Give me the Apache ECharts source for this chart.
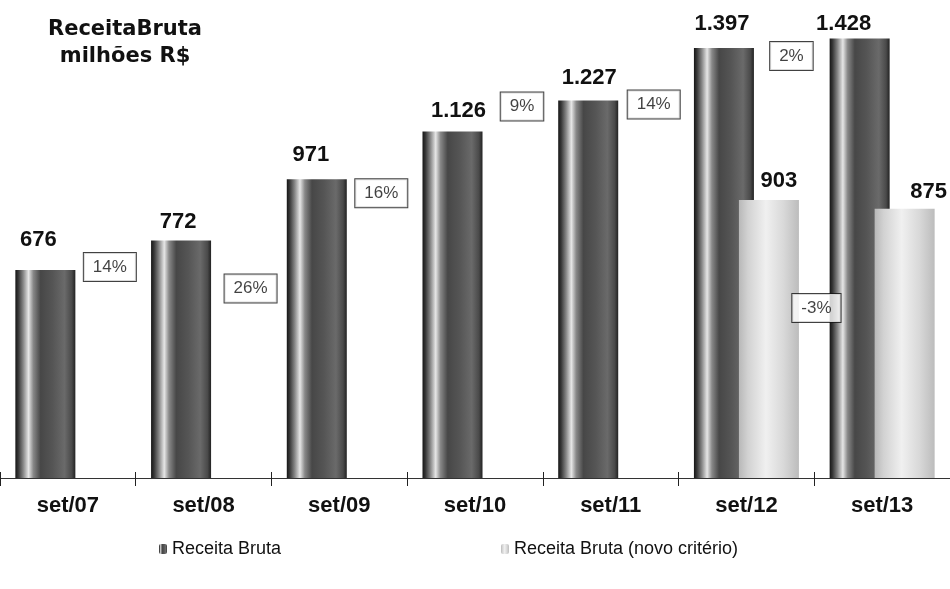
<!DOCTYPE html>
<html>
<head>
<meta charset="utf-8">
<script src="https://cdn.jsdelivr.net/npm/echarts@6/dist/echarts.min.js"></script>
<style>
  html, body { margin: 0; padding: 0; background: #fff; }
  #chart { width: 950px; height: 589px; }
</style>
</head>
<body>
<div id="chart"></div>
<script>
// ---- data ----
const categories = ['set/07', 'set/08', 'set/09', 'set/10', 'set/11', 'set/12', 'set/13'];
const receitaBruta = [676, 772, 971, 1126, 1227, 1397, 1428];
const receitaNovo = [null, null, null, null, null, 903, 875];
const growthBruta = ['14%', '26%', '16%', '9%', '14%', '2%', null];
const growthNovo = [null, null, null, null, null, '-3%', null];
const seriesNames = ['Receita Bruta', 'Receita Bruta (novo critério)'];

// ---- label placement (layout only) ----
const valueShiftBruta = [[-7, -14], [-3, -2], [-6, -8], [6, -5], [1, -6], [-2, -8], [-16, 1]];
const valueShiftNovo = [null, null, null, null, null, [10, -3], [24, -1]];
const growthShiftBruta = [[42, -3], [47, 48], [42, 14], [47, -25], [43, 4], [45, 8], null];
const growthShiftNovo = [null, null, null, null, null, [70, 108], null];

function fmt(v) {
  return v >= 1000 ? Math.floor(v / 1000) + '.' + String(v % 1000).padStart(3, '0') : String(v);
}

const FONT = 'Liberation Sans, Arial, sans-serif';

const darkGrad = {
  type: 'linear', x: 0, y: 0, x2: 1, y2: 0,
  colorStops: [
    { offset: 0, color: '#151515' },
    { offset: 0.05, color: '#383838' },
    { offset: 0.13, color: '#858585' },
    { offset: 0.22, color: '#e6e6e6' },
    { offset: 0.3, color: '#888888' },
    { offset: 0.42, color: '#474747' },
    { offset: 0.62, color: '#555555' },
    { offset: 0.82, color: '#6a6a6a' },
    { offset: 0.94, color: '#4a4a4a' },
    { offset: 1, color: '#222222' }
  ]
};
const lightGrad = {
  type: 'linear', x: 0, y: 0, x2: 1, y2: 0,
  colorStops: [
    { offset: 0, color: '#b8b8b8' },
    { offset: 0.15, color: '#d2d2d2' },
    { offset: 0.45, color: '#f0f0f0' },
    { offset: 0.75, color: '#d8d8d8' },
    { offset: 1, color: '#bcbcbc' }
  ]
};

const valueLabelBase = {
  show: true, position: 'top', distance: 5,
  fontFamily: FONT, fontWeight: 'bold', fontSize: 22, color: '#111',
  formatter: p => fmt(p.value)
};

function barData(values, shifts) {
  return values.map((v, i) => v == null ? null : {
    value: v,
    label: Object.assign({}, valueLabelBase, { offset: shifts[i] || [0, 0] })
  });
}

function growthData(values, growth, shifts) {
  const out = [];
  growth.forEach((g, i) => {
    if (g == null) return;
    out.push({ value: [i, values[i]], name: g, label: { offset: shifts[i] } });
  });
  return out;
}

const growthLabel = {
  show: true, position: 'inside', formatter: p => p.name,
  fontFamily: FONT, fontSize: 17, color: '#111',
  backgroundColor: '#fff', borderColor: '#111', borderWidth: 1, padding: [6, 9, 5, 9]
};

const chart = echarts.init(document.getElementById('chart'));
chart.setOption({
  animation: false,
  backgroundColor: '#ffffff',
  title: {
    text: 'ReceitaBruta\nmilhões R$',
    left: 120, top: 11, textAlign: 'center',
    textStyle: { fontFamily: 'DejaVu Sans, sans-serif', fontWeight: 'bold', fontSize: 21, lineHeight: 27, color: '#111' }
  },
  legend: [
    {
      data: [seriesNames[0]], left: 154, top: 535, itemWidth: 8, itemHeight: 10, itemGap: 6,
      textStyle: { fontFamily: FONT, fontSize: 18, color: '#111' }
    },
    {
      data: [seriesNames[1]], left: 496, top: 535, itemWidth: 8, itemHeight: 10, itemGap: 6,
      textStyle: { fontFamily: FONT, fontSize: 18, color: '#111' }
    }
  ],
  grid: { left: -4, right: -3, top: 1, bottom: 111, containLabel: false },
  xAxis: [
    {
      type: 'category', data: categories,
      axisLine: { lineStyle: { color: '#333', width: 1 } },
      axisTick: { show: true, length: 8, lineStyle: { color: '#222' } },
      axisLabel: { fontFamily: FONT, fontWeight: 'bold', fontSize: 22, color: '#111', margin: 17 }
    },
    {
      type: 'category', data: categories, position: 'bottom',
      axisLine: { show: false },
      axisTick: { show: true, inside: true, length: 6, lineStyle: { color: '#222' } },
      axisLabel: { show: false }
    }
  ],
  yAxis: { type: 'value', min: 0, max: 1550, show: false, splitLine: { show: false } },
  series: [
    {
      name: seriesNames[0], type: 'bar', barWidth: 60, barGap: '-25%',
      itemStyle: { color: darkGrad },
      data: barData(receitaBruta, valueShiftBruta)
    },
    {
      name: seriesNames[1], type: 'bar', barWidth: 60, barGap: '-25%',
      itemStyle: { color: lightGrad },
      data: barData(receitaNovo, valueShiftNovo)
    },
    {
      name: 'growthBruta', type: 'scatter', symbolSize: 0, z: 10,
      label: growthLabel,
      data: growthData(receitaBruta, growthBruta, growthShiftBruta)
    },
    {
      name: 'growthNovo', type: 'scatter', symbolSize: 0, z: 10,
      label: growthLabel,
      data: growthData(receitaNovo, growthNovo, growthShiftNovo)
    }
  ]
});
</script>
</body>
</html>
